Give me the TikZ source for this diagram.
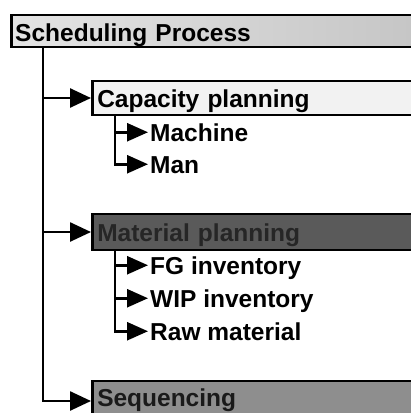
\documentclass[tikz,border=0pt]{standalone}
\usepackage{fontspec}
\setmainfont{Liberation Sans}
\usetikzlibrary{arrows.meta}
\definecolor{topfillL}{HTML}{E4E4E4}
\definecolor{topfillR}{HTML}{C4C4C4}
\definecolor{capfill}{HTML}{F2F2F2}
\definecolor{matfill}{HTML}{5A5A5A}
\definecolor{mattext}{HTML}{262626}
\definecolor{seqfill}{HTML}{8E8E8E}
\definecolor{seqtext}{HTML}{1A1A1A}
\tikzset{
  x=1pt, y=1pt,
  txt/.style={font=\fontsize{24.5}{28}\selectfont\bfseries},
  box/.style={txt, draw=black, line width=2.5pt, anchor=base west,
    inner ysep=0pt, inner xsep=5pt, text width=330pt, align=left},
  item/.style={txt, anchor=base west, inner ysep=0pt, inner xsep=2pt,
    text height=17.5pt, text depth=0pt},
  conn/.style={draw=black, line width=2.6pt},
  arr/.style={conn, -{Triangle[length=21pt,width=19pt]}},
  subarr/.style={conn, -{Triangle[length=21pt,width=18pt]}},
}
\begin{document}
\begin{tikzpicture}
\useasboundingbox (0,0) rectangle (411,-413);
% boxes
\node[box, left color=topfillL, right color=topfillR, inner xsep=4pt,
  text width=420pt, text height=26pt, text depth=6pt] (top) at (10,-41) {Scheduling Process};
\node[box, fill=capfill, text height=26pt, text depth=8pt] (cap) at (91,-107) {Capacity planning};
\node[box, fill=matfill, text=mattext, text height=27pt, text depth=9pt] (mat) at (91,-241) {Material planning};
\node[box, fill=seqfill, text=seqtext, text height=25pt, text depth=15pt] (seq) at (91,-406) {Sequencing};
% items
\node[item] (mach) at (148,-141) {Machine};
\node[item] (man) at (148,-173) {Man};
\node[item] (fg) at (148,-274) {FG inventory};
\node[item] (wip) at (148,-307) {WIP inventory};
\node[item] (raw) at (148,-340) {Raw material};
% trunk
\coordinate (trunk) at (43,-47);
\draw[arr] (trunk) |- (cap.west);
\draw[arr] (trunk) |- (mat.west);
\draw[arr] (trunk) |- (seq.west);
% sub connectors
\coordinate (capsub) at (115,-115);
\draw[subarr] (capsub) |- (mach.west);
\draw[subarr] (capsub) |- (man.west);
\coordinate (matsub) at (115,-250);
\draw[subarr] (matsub) |- (fg.west);
\draw[subarr] (matsub) |- (wip.west);
\draw[subarr] (matsub) |- (raw.west);
\end{tikzpicture}
\end{document}
